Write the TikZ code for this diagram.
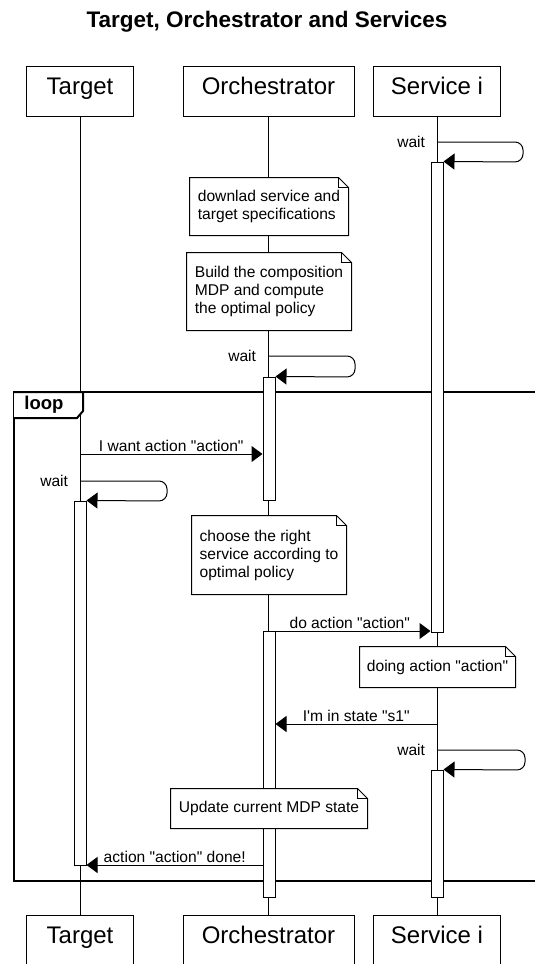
\documentclass[tikz,border=0pt]{standalone}
\usepackage{fontspec}
\setmainfont{Liberation Sans}[Ligatures=TeXOff]
\usetikzlibrary{arrows.meta}
\usetikzlibrary{positioning}

\tikzset{
    actor/.style={draw, fill=white, minimum height=50pt, inner sep=0pt, text height=17pt, text depth=11pt, font=\fontsize{24}{28}\selectfont},
    actbar/.style={draw, fill=white, minimum width=12pt, inner sep=0pt},
    notebox/.style={fill=white, align=left, inner sep=0pt, font=\fontsize{15.6}{18}\selectfont},
    msg/.style={-{Triangle[length=11pt, width=16pt]}},
    lbl/.style={font=\fontsize{15.6}{18}\selectfont, inner sep=1.5pt},
}

\begin{document}
\begin{tikzpicture}[x=1pt, y=-1pt, line width=1pt]
        \useasboundingbox (0, 0) rectangle (535, 964);

        \node[font=\bfseries\fontsize{22.5}{26}\selectfont] (title) at (267, 22) {Target, Orchestrator and Services};

        % participants, top and bottom
        \node[actor, minimum width=107pt] (tTop) at (80, 91.5) {Target};
        \node[actor, minimum width=171pt] (oTop) at (268.5, 91.5) {Orchestrator};
        \node[actor, minimum width=127pt] (sTop) at (437, 91.5) {Service i};
        \node[actor, minimum width=107pt] (tBot) at (80, 940) {Target};
        \node[actor, minimum width=171pt] (oBot) at (268.5, 940) {Orchestrator};
        \node[actor, minimum width=127pt] (sBot) at (437, 940) {Service i};

        \draw (tTop.south) -- (tBot.north);
        \draw (oTop.south) -- (oBot.north);
        \draw (sTop.south) -- (sBot.north);

        % loop frame
        \draw[line width=2pt] (14, 392) rectangle (545, 881);
        \draw[line width=2pt, fill=white] (14, 392) -- (83, 392) -- (83, 411) -- (77, 418) -- (14, 418);
        \node[font=\bfseries\fontsize{18.5}{20}\selectfont] (loopLbl) at (44, 405) {loop};

        % activations
        \node[actbar, minimum height=470pt] (sAct1) at (437, 397) {};
        \node[actbar, minimum height=123pt] (oAct1) at (269, 438.5) {};
        \node[actbar, minimum height=364pt] (tAct1) at (80, 683) {};
        \node[actbar, minimum height=266pt] (oAct2) at (269, 764) {};
        \node[actbar, minimum height=127pt] (sAct2) at (437, 833.5) {};

        % notes
        \node[notebox, minimum width=158pt, minimum height=57pt] (n1) at (269, 206.5) {downlad service and\\target specifications};
        \node[notebox, minimum width=164pt, minimum height=77pt] (n2) at (269, 291.5) {Build the composition\\MDP and compute\\the optimal policy};
        \node[notebox, minimum width=154pt, minimum height=78pt] (n3) at (269, 555) {choose the right\\service according to\\optimal policy};
        \node[notebox, minimum width=155pt, minimum height=40pt] (n4) at (437.5, 667) {doing action "action"};
        \node[notebox, minimum width=196pt, minimum height=39pt] (n5) at (269, 808.5) {Update current MDP state};
        \foreach \n in {n1, n2, n3, n4, n5} {
            \draw (\n.south west) -- (\n.north west) -- ([xshift=-10pt]\n.north east) -- ([yshift=-10pt]\n.north east) -- (\n.south east) -- cycle;
            \draw ([xshift=-10pt]\n.north east) |- ([yshift=-10pt]\n.north east);
        }

        % self calls
        \coordinate (w1) at (437, 142);
        \coordinate (w2) at (268, 356);
        \coordinate (w3) at (80, 481);
        \coordinate (w4) at (437, 750);
        \draw[msg, rounded corners=8pt] (w1) -- ++(86, 0) -- ++(0, 20) -- (sAct1.north east);
        \draw[msg, rounded corners=8pt] (w2) -- ++(87, 0) -- ++(0, 21) -- (oAct1.north east);
        \draw[msg, rounded corners=8pt] (w3) -- ++(87, 0) -- ++(0, 20) -- (tAct1.north east);
        \draw[msg, rounded corners=8pt] (w4) -- ++(88, 0) -- ++(0, 20) -- (sAct2.north east);
        \node[lbl, left=10pt of w1] (wl1) {wait};
        \node[lbl, left=10pt of w2] (wl2) {wait};
        \node[lbl, left=10pt of w3] (wl3) {wait};
        \node[lbl, left=10pt of w4] (wl4) {wait};

        % messages
        \coordinate (m1) at (80, 454);
        \coordinate (m2) at (269, 631);
        \coordinate (m3) at (437, 724);
        \coordinate (m4) at (263, 865);
        \draw[msg] (m1) -- node[lbl, above] (l1) {I want action "action"} (m1 -| oAct1.west);
        \draw[msg] (m2) -- node[lbl, above] (l2) {do action "action"} (m2 -| sAct1.west);
        \draw[msg] (m3) -- node[lbl, above] (l3) {I'm in state "s1"} (m3 -| oAct2.east);
        \draw[msg] (m4) -- node[lbl, above] (l4) {action "action" done!} (m4 -| tAct1.east);
    \end{tikzpicture}
\end{document}
